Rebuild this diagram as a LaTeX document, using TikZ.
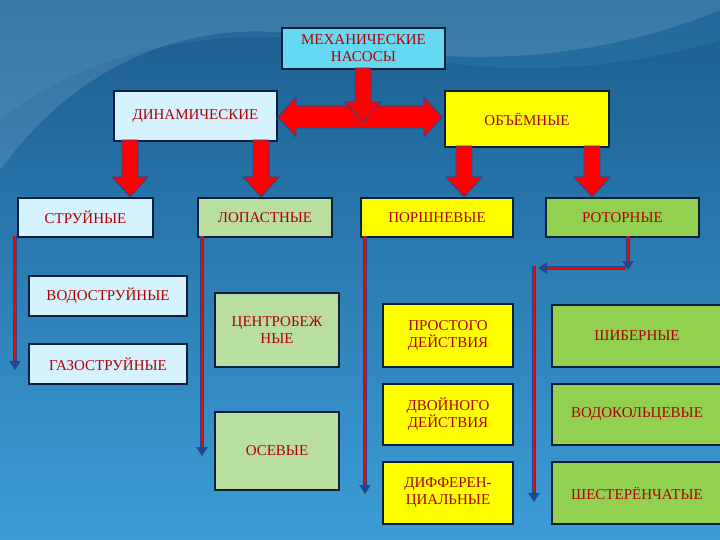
\documentclass[tikz,border=0pt]{standalone}
\usepackage{fontspec}
\setmainfont{Liberation Serif}
\usetikzlibrary{arrows.meta,calc}
\definecolor{txt}{HTML}{B00000}
\definecolor{cyanb}{HTML}{66D9F2}
\definecolor{lblue}{HTML}{D4F3FF}
\definecolor{lgreen}{HTML}{B8DFA0}
\definecolor{ylw}{HTML}{FFFF00}
\definecolor{grn}{HTML}{92D050}
\definecolor{navy}{HTML}{0B1F3A}
\definecolor{bgtop}{HTML}{1B5C8E}
\definecolor{bgbot}{HTML}{3C9DD6}
\definecolor{arrblue}{HTML}{23468C}
\tikzset{
 box/.style={draw=navy,line width=2pt,text=txt,font=\fontsize{15}{17}\selectfont,align=center,inner sep=0pt,anchor=north west},
 fat/.style={fill=red,draw=arrblue,line width=0.8pt},
 thinout/.style={draw=arrblue,line width=4.5pt,-{Triangle[length=9pt,width=11pt]}},
 thinin/.style={draw=red,line width=2pt},
}
\newcommand\bx[7]{\node[box,fill=#6,minimum width=#4-#2,minimum height=#5-#3] (#1) at (#2,#3) {#7};}
\newcommand\fatdown[3]{\filldraw[fat] (#1-8,#2) -- (#1+8,#2) -- (#1+8,#3-20) -- (#1+18,#3-20) -- (#1,#3) -- (#1-18,#3-20) -- (#1-8,#3-20) -- cycle;}
\newcommand\thinarr[3]{\draw[thinout] (#1) -- (#2); \draw[thinin] (#1) -- (#3);}
\begin{document}
\begin{tikzpicture}[x=1pt,y=-1pt]
\useasboundingbox (0,0) rectangle (720,540);
\shade[top color=bgtop,bottom color=bgbot] (0,0) rectangle (720,540);
\fill[white,opacity=0.12] (0,170) .. controls (80,60) and (200,10) .. (330,40) .. controls (460,70) and (600,60) .. (720,10) -- (720,0) -- (0,0) -- cycle;
\fill[cyan!60!white,opacity=0.10] (0,120) .. controls (100,40) and (250,20) .. (380,50) .. controls (500,80) and (620,70) .. (720,40) -- (720,0) -- (0,0) -- cycle;
% boxes
\bx{mech}{281}{27}{444}{68}{cyanb}{МЕХАНИЧЕСКИЕ\\НАСОСЫ}
\bx{dyn}{113}{90}{276}{140}{lblue}{ДИНАМИЧЕСКИЕ}
\bx{vol}{444}{90}{608}{146}{ylw}{ОБЪЁМНЫЕ}
\bx{str}{17}{197}{152}{236}{lblue}{СТРУЙНЫЕ}
\bx{lop}{197}{197}{331}{236}{lgreen}{ЛОПАСТНЫЕ}
\bx{por}{360}{197}{512}{236}{ylw}{ПОРШНЕВЫЕ}
\bx{rot}{545}{197}{698}{236}{grn}{РОТОРНЫЕ}
\bx{vod}{28}{275}{186}{315}{lblue}{ВОДОСТРУЙНЫЕ}
\bx{gaz}{28}{343}{186}{383}{lblue}{ГАЗОСТРУЙНЫЕ}
\bx{cen}{214}{292}{338}{366}{lgreen}{ЦЕНТРОБЕЖ\\НЫЕ}
\bx{ose}{214}{411}{338}{489}{lgreen}{ОСЕВЫЕ}
\bx{pro}{382}{303}{512}{366}{ylw}{ПРОСТОГО\\ДЕЙСТВИЯ}
\bx{dvo}{382}{383}{512}{444}{ylw}{ДВОЙНОГО\\ДЕЙСТВИЯ}
\bx{dif}{382}{461}{512}{523}{ylw}{ДИФФЕРЕН-\\ЦИАЛЬНЫЕ}
\bx{shi}{551}{304}{721}{366}{grn}{ШИБЕРНЫЕ}
\bx{vdk}{551}{383}{721}{444}{grn}{ВОДОКОЛЬЦЕВЫЕ}
\bx{she}{551}{461}{721}{523}{grn}{ШЕСТЕРЁНЧАТЫЕ}
% fat arrows
\filldraw[fat] (278,117) -- (296,97) -- (296,106) -- (424,106) -- (424,97) -- (442,117) -- (424,137) -- (424,128) -- (296,128) -- (296,137) -- cycle;
\fatdown{363}{68}{122}
\fatdown{130}{140}{197}
\fatdown{261}{140}{197}
\fatdown{464}{146}{197}
\fatdown{592}{146}{197}
% thin arrows
\coordinate (s1) at (15,236); \coordinate (a1) at (15,370); \coordinate (b1) at (15,360);
\coordinate (s2) at (202,236); \coordinate (a2) at (202,456); \coordinate (b2) at (202,446);
\coordinate (s3) at (365,236); \coordinate (a3) at (365,494); \coordinate (b3) at (365,484);
\coordinate (s4) at (628,236); \coordinate (a4) at (628,270); \coordinate (b4) at (628,262);
\coordinate (s5) at (626,268); \coordinate (a5) at (538,268); \coordinate (b5) at (548,268);
\coordinate (s6) at (534,266); \coordinate (a6) at (534,502); \coordinate (b6) at (534,492);
\thinarr{s1}{a1}{b1}
\thinarr{s2}{a2}{b2}
\thinarr{s3}{a3}{b3}
\thinarr{s4}{a4}{b4}
\thinarr{s5}{a5}{b5}
\thinarr{s6}{a6}{b6}
\end{tikzpicture}
\end{document}
